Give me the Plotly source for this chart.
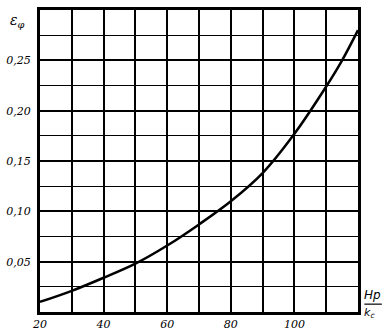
import plotly.graph_objects as go

# data
hp_kc = [20, 30, 40, 50, 60, 70, 80, 90, 100, 110, 115, 120]
eps = [0.010, 0.021, 0.034, 0.048, 0.066, 0.087, 0.110, 0.138, 0.177, 0.224, 0.250, 0.280]

x_ticks = [20, 40, 60, 80, 100]
x_labels = ["20", "40", "60", "80", "100"]
y_ticks = [0.05, 0.10, 0.15, 0.20, 0.25]
y_labels = ["0,05", "0,10", "0,15", "0,20", "0,25"]

fig = go.Figure()
fig.add_trace(go.Scatter(x=hp_kc, y=eps, mode="lines",
                         line=dict(color="black", width=2.5, shape="spline", smoothing=1.0),
                         showlegend=False, hoverinfo="skip"))

font = dict(family="DejaVu Serif", size=11, color="black", style="italic")

fig.update_layout(
    width=386, height=335,
    margin=dict(l=40, r=28, t=10, b=23),
    paper_bgcolor="white", plot_bgcolor="white",
    font=font,
    xaxis=dict(range=[20, 120], tickmode="array", tickvals=x_ticks, ticktext=x_labels,
               showgrid=True, gridcolor="black", gridwidth=2,
               minor=dict(dtick=10, tick0=20, showgrid=True, gridcolor="black", gridwidth=1.5),
               showline=True, linecolor="black", linewidth=3, mirror=True,
               ticks="", zeroline=False, tickfont=font, automargin=False),
    yaxis=dict(range=[0, 0.30], tickvals=y_ticks, ticktext=y_labels,
               showgrid=True, gridcolor="black", gridwidth=2,
               minor=dict(dtick=0.025, tick0=0, showgrid=True, gridcolor="black", gridwidth=1.2),
               showline=True, linecolor="black", linewidth=3, mirror=True,
               ticks="", zeroline=False, tickfont=font, ticklabelstandoff=4, automargin=False),
)

fig.add_annotation(xref="paper", yref="paper", x=-0.07, y=1.0, xanchor="center", yanchor="top",
                   text="ε<sub>φ</sub>", showarrow=False,
                   font=dict(family="DejaVu Serif", size=14, color="black", style="italic"))
fig.add_annotation(xref="paper", yref="paper", x=1.015, y=0.03, xanchor="left", yanchor="bottom",
                   text="Hp", showarrow=False, borderpad=0,
                   font=dict(family="DejaVu Sans", size=12, color="black", style="italic"))
fig.add_annotation(xref="paper", yref="paper", x=1.015, y=0.022, xanchor="left", yanchor="top",
                   text="k<sub>c</sub>", showarrow=False, borderpad=0,
                   font=dict(family="DejaVu Sans", size=11, color="black", style="italic"))
fig.add_shape(type="line", xref="paper", yref="paper", x0=1.02, x1=1.075, y0=0.026, y1=0.026,
              line=dict(color="black", width=1.2))

fig.write_html("out.html", config={"displayModeBar": False},
               post_script="document.body.style.margin='0';document.body.style.overflow='hidden';")
